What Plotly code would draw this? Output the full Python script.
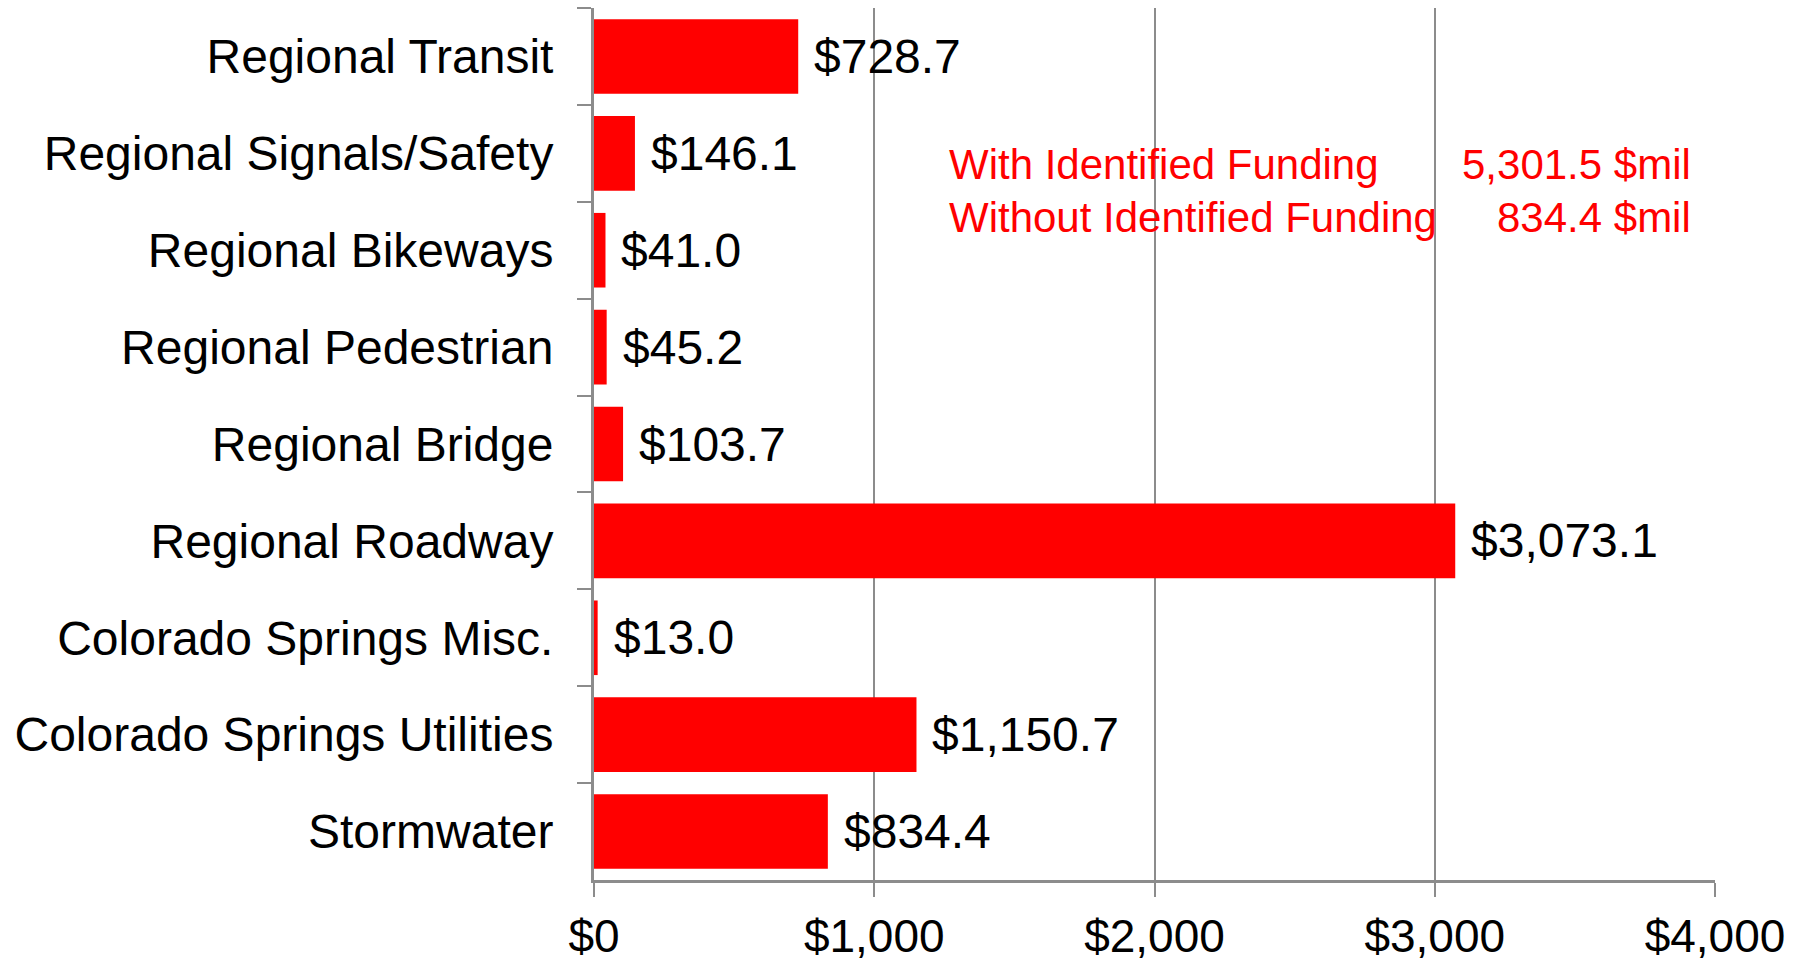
import plotly.graph_objects as go

# Capital program totals by category ($ millions)
categories = [
    "Regional Transit",
    "Regional Signals/Safety",
    "Regional Bikeways",
    "Regional Pedestrian",
    "Regional Bridge",
    "Regional Roadway",
    "Colorado Springs Misc.",
    "Colorado Springs Utilities",
    "Stormwater",
]
values = [728.7, 146.1, 41.0, 45.2, 103.7, 3073.1, 13.0, 1150.7, 834.4]
value_labels = ["$728.7", "$146.1", "$41.0", "$45.2", "$103.7", "$3,073.1",
                "$13.0", "$1,150.7", "$834.4"]

x_tickvals = [0, 1000, 2000, 3000, 4000]
x_ticktext = ["$0", "$1,000", "$2,000", "$3,000", "$4,000"]

summary_labels = ["With Identified Funding", "Without Identified Funding"]
summary_values = ["5,301.5 $mil", "834.4 $mil"]

FONT = "Arial, Liberation Sans, sans-serif"
RED = "#ff0000"
GRAY = "#8c8c8c"

fig = go.Figure(
    go.Bar(
        x=values,
        y=categories,
        orientation="h",
        marker=dict(color=RED, line=dict(width=0)),
        hoverinfo="skip",
    )
)

# Value labels at the end of each bar
for cat, val, lab in zip(categories, values, value_labels):
    fig.add_annotation(
        x=val, y=cat, xref="x", yref="y",
        text=lab, showarrow=False,
        xanchor="left", yanchor="middle", xshift=14,
        font=dict(family=FONT, size=48, color="black"),
    )

# Funding summary block (label column + right-aligned amount column)
summary_y = [0.820, 0.760]
for lab, val, yy in zip(summary_labels, summary_values, summary_y):
    fig.add_annotation(
        x=0.315, y=yy, xref="paper", yref="paper",
        text=lab, showarrow=False, xanchor="left", yanchor="middle",
        font=dict(family=FONT, size=42, color=RED),
    )
    fig.add_annotation(
        x=0.980, y=yy, xref="paper", yref="paper",
        text=val, showarrow=False, xanchor="right", yanchor="middle",
        font=dict(family=FONT, size=42, color=RED),
    )

fig.update_layout(
    width=1808,
    height=962,
    margin=dict(l=594, r=93, t=8, b=82),
    paper_bgcolor="white",
    plot_bgcolor="white",
    bargap=0.23,
    showlegend=False,
    font=dict(family=FONT, color="black"),
    xaxis=dict(
        range=[0, 4000],
        tickvals=x_tickvals,
        ticktext=x_ticktext,
        showgrid=True,
        gridcolor=GRAY,
        gridwidth=2,
        zeroline=False,
        showline=True,
        linecolor=GRAY,
        linewidth=3,
        ticks="outside",
        ticklen=14,
        tickwidth=2,
        tickcolor=GRAY,
        ticklabelstandoff=0,
        tickfont=dict(family=FONT, size=46, color="black"),
        automargin=False,
        fixedrange=True,
    ),
    yaxis=dict(
        type="category",
        categoryorder="array",
        categoryarray=categories,
        autorange="reversed",
        tickson="boundaries",
        showgrid=False,
        showline=True,
        linecolor=GRAY,
        linewidth=3,
        ticks="outside",
        ticklen=14,
        tickwidth=2,
        tickcolor=GRAY,
        ticklabelstandoff=28,
        tickfont=dict(family=FONT, size=48, color="black"),
        automargin=False,
        fixedrange=True,
    ),
)

fig.write_html("out.html")
